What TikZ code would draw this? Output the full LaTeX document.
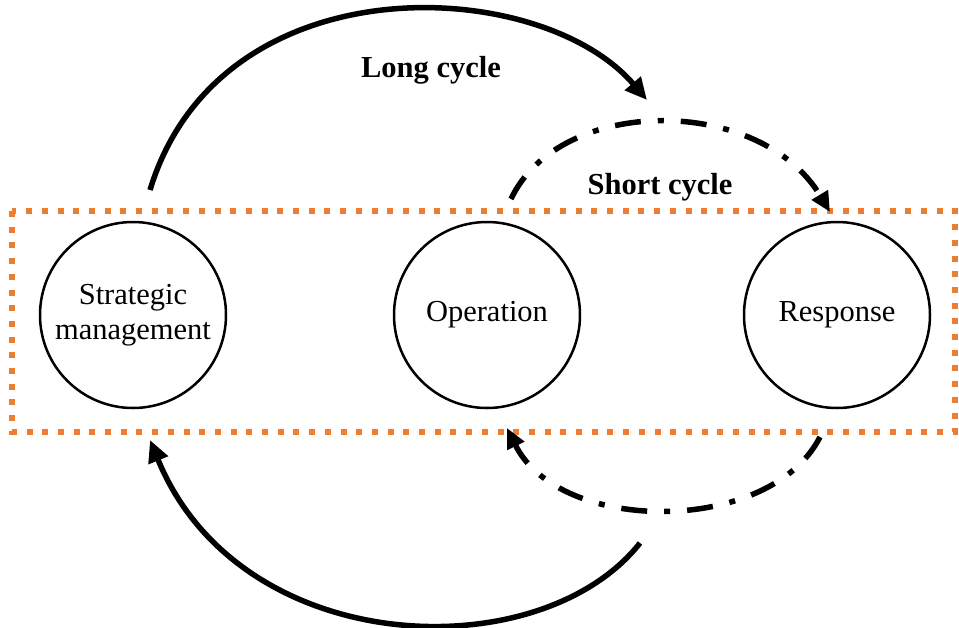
\documentclass[tikz,border=0pt]{standalone}
\usepackage{fontspec}
\setmainfont{Liberation Serif}
\usetikzlibrary{arrows.meta}
\definecolor{boxorange}{HTML}{ED7D31}
\begin{document}
\begin{tikzpicture}[x=1pt,y=-1pt,
  every node/.style={font=\fontsize{30.5}{35}\selectfont},
  stage/.style={circle,draw,line width=2.5pt,minimum size=186pt,inner sep=0pt,align=center},
  title/.style={font=\fontsize{30.5}{35}\selectfont\bfseries},
  longarrow/.style={line width=5.5pt,-{Triangle[length=22pt,width=20pt]}},
  shortarrow/.style={line width=5.5pt,dash pattern=on 26pt off 17pt on 6pt off 17pt,
    -{Triangle[length=20pt,width=18pt]}},
  zone/.style={draw=boxorange,line width=6pt,dash pattern=on 6pt off 9.7pt}]
\useasboundingbox (0,0) rectangle (959,627);

\draw[zone] (12,211) rectangle (955,432);

\node[stage] (sm) at (133,315) {Strategic\\management};
\node[stage] (op) at (487,315) {Operation};
\node[stage] (rs) at (837,315) {Response};

\coordinate (lA) at (150,190);
\coordinate (lB) at (647,100);
\coordinate (lC) at (640,543);
\coordinate (lD) at (150,440);
\coordinate (sA) at (511,199);
\coordinate (sB) at (830,212);
\coordinate (sC) at (820,437);
\coordinate (sD) at (507,428);

\draw[longarrow] (lA) .. controls (220,-40) and (540,-25) .. (lB);
\draw[longarrow] (lC) .. controls (540,670) and (240,660) .. (lD);
\draw[shortarrow] (sA) .. controls (560,95) and (760,95) .. (sB);
\draw[shortarrow] (sC) .. controls (770,535) and (560,535) .. (sD);

\node[title] (lc) at (431,70) {Long cycle};
\node[title] (sc) at (660,187) {Short cycle};
\end{tikzpicture}
\end{document}
